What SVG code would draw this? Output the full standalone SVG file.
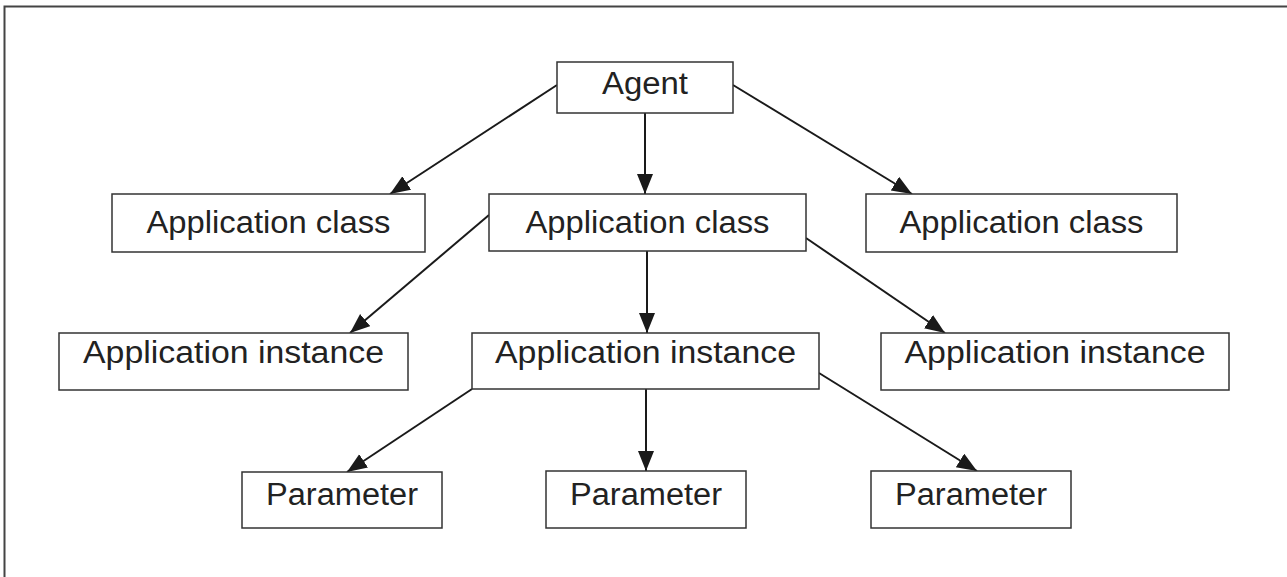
<svg xmlns="http://www.w3.org/2000/svg" width="1287" height="577" viewBox="0 0 1287 577">
<style>
.box{fill:#fff;stroke:#333;stroke-width:1.5}
.lbl{font-family:"Liberation Sans",Arial,sans-serif;font-size:31px;fill:#222;text-anchor:middle}
.con{stroke:#1a1a1a;stroke-width:2;fill:none;marker-end:url(#ah)}
</style>
<defs>
<marker id="ah" markerUnits="userSpaceOnUse" markerWidth="22" markerHeight="18" refX="20" refY="8" orient="auto">
<path d="M0,0 L20,8 L0,16 z" fill="#1a1a1a"/>
</marker>
</defs>
<rect width="1287" height="577" fill="#fff"/>
<path d="M4.5,577 V6.5 H1287" fill="none" stroke="#444" stroke-width="2"/>
<g id="connectors">
<path class="con" d="M557,85 L390,194"/>
<path class="con" d="M733,85 L912,194"/>
<path class="con" d="M645,113 L645,194"/>
<path class="con" d="M489,215 L350,333"/>
<path class="con" d="M806,238 L945,333"/>
<path class="con" d="M647,251 L647,333"/>
<path class="con" d="M472,389 L347,472"/>
<path class="con" d="M819,373 L977,471"/>
<path class="con" d="M646,389 L646,471"/>
</g>
<g id="agent"><rect class="box" x="557" y="62" width="176" height="51"/><text class="lbl" x="645" y="94" textLength="86" lengthAdjust="spacingAndGlyphs">Agent</text></g>
<g id="class-left"><rect class="box" x="112" y="194" width="313" height="58"/><text class="lbl" x="268.5" y="233" textLength="244" lengthAdjust="spacingAndGlyphs">Application class</text></g>
<g id="class-center"><rect class="box" x="489" y="194" width="317" height="57"/><text class="lbl" x="647.5" y="233" textLength="244" lengthAdjust="spacingAndGlyphs">Application class</text></g>
<g id="class-right"><rect class="box" x="866" y="194" width="311" height="58"/><text class="lbl" x="1021.5" y="233" textLength="244" lengthAdjust="spacingAndGlyphs">Application class</text></g>
<g id="instance-left"><rect class="box" x="59" y="333" width="349" height="57"/><text class="lbl" x="233.5" y="363" textLength="301" lengthAdjust="spacingAndGlyphs">Application instance</text></g>
<g id="instance-center"><rect class="box" x="472" y="333" width="347" height="56"/><text class="lbl" x="645.5" y="363" textLength="301" lengthAdjust="spacingAndGlyphs">Application instance</text></g>
<g id="instance-right"><rect class="box" x="881" y="333" width="348" height="57"/><text class="lbl" x="1055" y="363" textLength="301" lengthAdjust="spacingAndGlyphs">Application instance</text></g>
<g id="param-left"><rect class="box" x="242" y="472" width="200" height="56"/><text class="lbl" x="342" y="505" textLength="152" lengthAdjust="spacingAndGlyphs">Parameter</text></g>
<g id="param-center"><rect class="box" x="546" y="471" width="200" height="57"/><text class="lbl" x="646" y="505" textLength="152" lengthAdjust="spacingAndGlyphs">Parameter</text></g>
<g id="param-right"><rect class="box" x="871" y="471" width="200" height="57"/><text class="lbl" x="971" y="505" textLength="152" lengthAdjust="spacingAndGlyphs">Parameter</text></g>
</svg>
